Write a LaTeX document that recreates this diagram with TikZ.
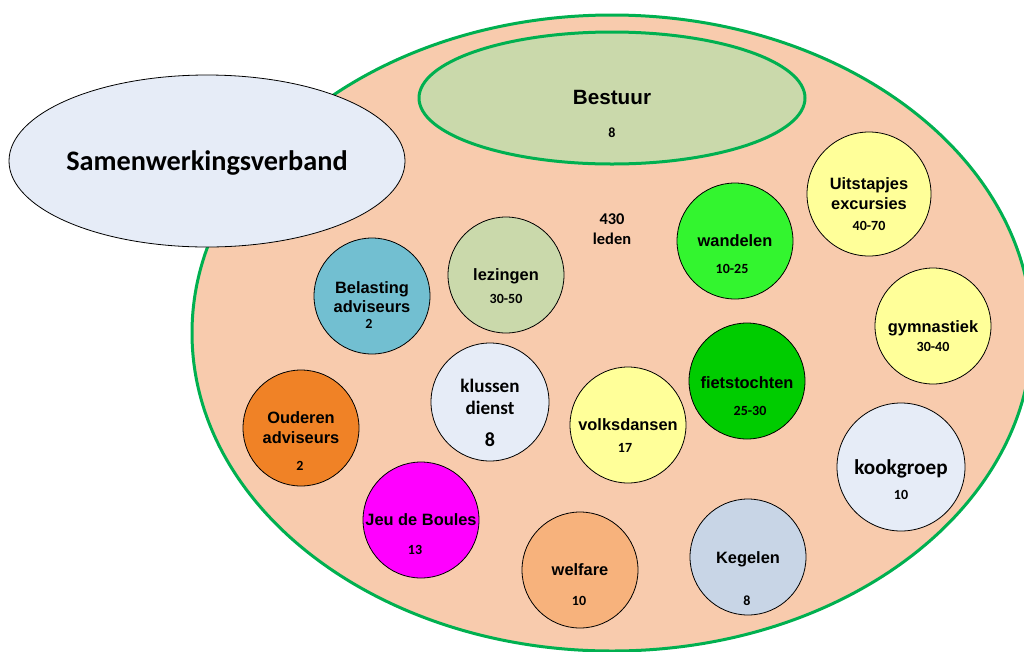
\documentclass[tikz,border=0pt]{standalone}
\usepackage{fontspec}
\setmainfont{Liberation Sans}
\newfontfamily\calfont{Carlito}
\usetikzlibrary{shapes.geometric}
\definecolor{peach}{HTML}{F8CBAD}
\definecolor{clubgreen}{HTML}{00B050}
\definecolor{sage}{HTML}{CAD9AB}
\definecolor{paleblue}{HTML}{E6ECF7}
\definecolor{teal}{HTML}{72BFD1}
\definecolor{lime}{HTML}{33F52F}
\definecolor{lemon}{HTML}{FFFF99}
\definecolor{oranje}{HTML}{F08226}
\definecolor{fuchsia}{HTML}{FF00FF}
\definecolor{grass}{HTML}{00CC00}
\definecolor{apricot}{HTML}{F7B27C}
\definecolor{steel}{HTML}{C8D5E6}
\tikzset{%
  club/.style = {circle,draw,line width=0.6pt,minimum size=87pt,
        inner sep=0pt},
  rim/.style = {ellipse,draw=clubgreen,line width=2.25pt},
  lbl/.style = {anchor=base,inner sep=0pt,
        font=\bfseries\fontsize{12.3}{14}\selectfont},
  cal/.style = {anchor=base,inner sep=0pt,
        font=\calfont\bfseries\fontsize{12.3}{14}\selectfont},
  num/.style = {anchor=base,inner sep=0pt,
        font=\calfont\bfseries\fontsize{10.5}{12}\selectfont}
}
\begin{document}
\begin{tikzpicture}[x=0.75pt,y=-0.75pt]
\clip (0,0) rectangle (1024,651);
\node[rim,fill=peach,minimum width=630pt,minimum height=477pt] (leden) at (612,333) {};
\node[ellipse,draw,line width=0.6pt,fill=paleblue,minimum width=297pt,minimum height=129pt,
      inner sep=0pt] (samen) at (207,161) {};
\node[cal,font=\calfont\bfseries\fontsize{21.2}{24}\selectfont] (samenT) at (207,170) {Samenwerkingsverband};
\node[rim,fill=sage,minimum width=289.5pt,minimum height=99pt] (bestuur) at (612,98) {};
\node[lbl,font=\bfseries\fontsize{15.5}{18}\selectfont] (bestuurT) at (612,104) {Bestuur};
\node[num] (bestuurN) at (612,137) {8};
\node[cal] (ledenN) at (612,224) {430};
\node[cal] (ledenT) at (612,244) {leden};

\node[club,fill=teal] (belasting) at (372,296) {};
\node[lbl] (belastingT) at (372,293) {Belasting};
\node[lbl] (belastingU) at (372,312) {adviseurs};
\node[num] (belastingN) at (369,328) {2};

\node[club,fill=sage] (lezingen) at (506,275) {};
\node[lbl] (lezingenT) at (506,280) {lezingen};
\node[num] (lezingenN) at (506,303) {30-50};

\node[club,fill=lime] (wandelen) at (735,241) {};
\node[lbl] (wandelenT) at (735,246) {wandelen};
\node[num] (wandelenN) at (732,273) {10-25};

\node[club,fill=lemon,minimum size=93pt] (uitstapjes) at (869,194) {};
\node[lbl] (uitstapjesT) at (869,189) {Uitstapjes};
\node[lbl] (uitstapjesU) at (869,209) {excursies};
\node[num] (uitstapjesN) at (869,230) {40-70};

\node[club,fill=lemon] (gym) at (933,326) {};
\node[lbl] (gymT) at (933,332) {gymnastiek};
\node[num] (gymN) at (933,351) {30-40};

\node[club,fill=oranje] (ouderen) at (301,428) {};
\node[lbl] (ouderenT) at (301,423) {Ouderen};
\node[lbl] (ouderenU) at (301,443) {adviseurs};
\node[num] (ouderenN) at (300,470) {2};

\node[club,fill=paleblue,minimum size=88.5pt] (klussen) at (490,402) {};
\node[cal,font=\calfont\bfseries\fontsize{14.3}{16}\selectfont] (klussenT) at (490,392) {klussen};
\node[cal,font=\calfont\bfseries\fontsize{14.3}{16}\selectfont] (klussenU) at (490,414) {dienst};
\node[cal,font=\calfont\bfseries\fontsize{15}{17}\selectfont] (klussenN) at (490,446) {8};

\node[club,fill=fuchsia] (boules) at (421,520) {};
\node[lbl] (boulesT) at (421,525) {Jeu de Boules};
\node[num] (boulesN) at (415,554) {13};

\node[club,fill=lemon] (volksdansen) at (628,425) {};
\node[lbl] (volksdansenT) at (628,430) {volksdansen};
\node[num] (volksdansenN) at (625,452) {17};

\node[club,fill=grass] (fiets) at (747,381) {};
\node[lbl] (fietsT) at (747,388) {fietstochten};
\node[num] (fietsN) at (750,415) {25-30};

\node[club,fill=paleblue,minimum size=96pt] (kook) at (901,467) {};
\node[cal,font=\calfont\bfseries\fontsize{15.9}{18}\selectfont] (kookT) at (901,474) {kookgroep};
\node[num] (kookN) at (901,499) {10};

\node[club,fill=apricot] (welfare) at (580,570) {};
\node[lbl] (welfareT) at (580,575) {welfare};
\node[num] (welfareN) at (579,605) {10};

\node[club,fill=steel] (kegelen) at (748,557) {};
\node[lbl] (kegelenT) at (748,563) {Kegelen};
\node[num] (kegelenN) at (747,605) {8};
\end{tikzpicture}
\end{document}
